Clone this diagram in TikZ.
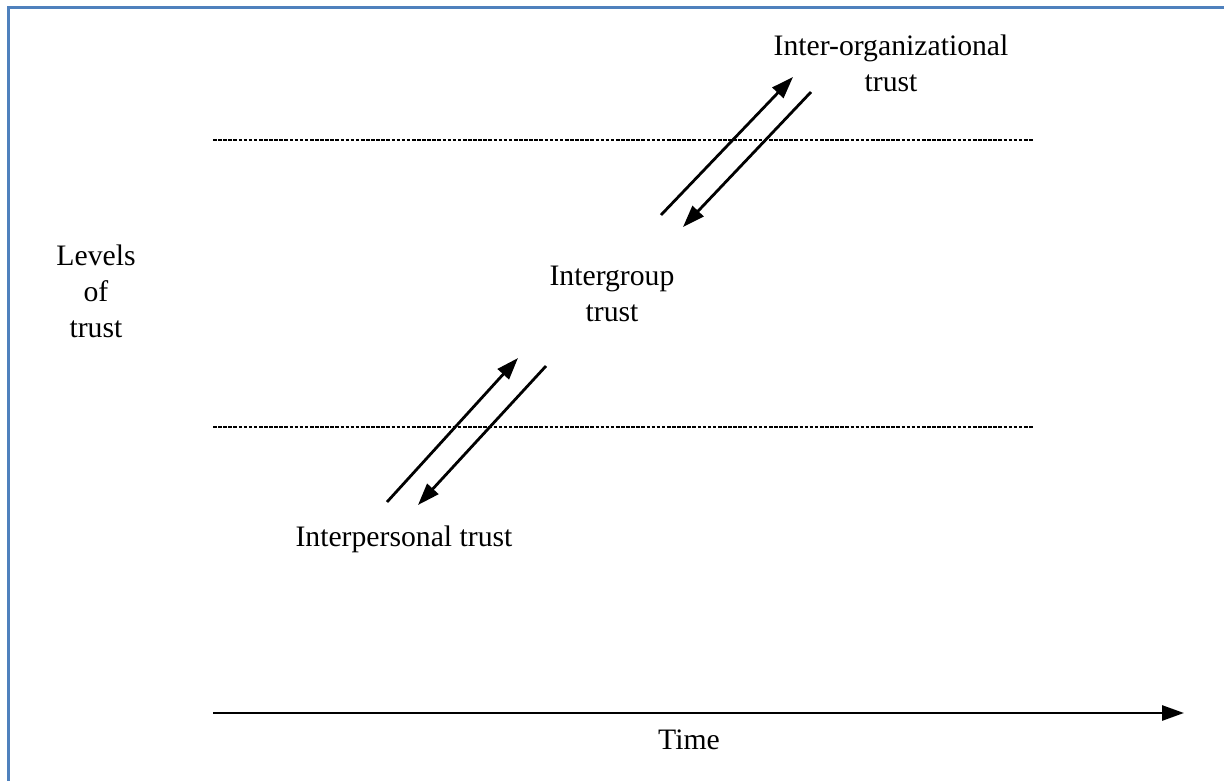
\documentclass[tikz,border=0pt]{standalone}
\usepackage{fontspec}
\setmainfont{Liberation Serif}
\usetikzlibrary{arrows.meta}

\definecolor{framecol}{HTML}{4F81BD}

\tikzset{
  label text/.style={inner sep=0pt, align=center, anchor=base,
    font=\fontsize{29.7}{36}\selectfont},
  level line/.style={line width=2.3pt, dash pattern=on 3.6pt off 1.5pt},
  flow/.style={line width=2.8pt, -{Triangle[length=22pt,width=15pt]}},
  frame line/.style={line width=3pt, framecol}
}

\begin{document}
\begin{tikzpicture}[x=1pt, y=-1pt]
  \useasboundingbox (0,0) rectangle (1224,781);

  % frame along the top and left edges
  \draw[frame line] (1224,7.5) -- (8.7,7.5) -- (8.7,781);

  % boundaries between the levels
  \draw[level line] (213,140) -- (1033,140);
  \draw[level line] (213,427) -- (1033,427);

  % labels (anchored on the baseline of their last line)
  \node[label text] (orgs)   at (891,92)  {Inter-organizational\\trust};
  \node[label text] (levels) at (96,337)  {Levels\\of\\trust};
  \node[label text] (group)  at (612,321) {Intergroup\\trust};
  \node[label text] (person) at (404,546) {Interpersonal trust};
  \node[label text] (time)   at (689,749) {Time};

  % upward and downward movements between levels
  \coordinate (a1s) at (387,502);  \coordinate (a1e) at (518,358);
  \coordinate (a2s) at (546,366);  \coordinate (a2e) at (418,505);
  \coordinate (b1s) at (661,215);  \coordinate (b1e) at (793,77);
  \coordinate (b2s) at (811,92);   \coordinate (b2e) at (683,227);
  \draw[flow] (a1s) -- (a1e);
  \draw[flow] (a2s) -- (a2e);
  \draw[flow] (b1s) -- (b1e);
  \draw[flow] (b2s) -- (b2e);

  % time axis
  \coordinate (t0) at (213,713);
  \coordinate (t1) at (1184,713);
  \draw[flow] (t0) -- (t1);
\end{tikzpicture}
\end{document}
